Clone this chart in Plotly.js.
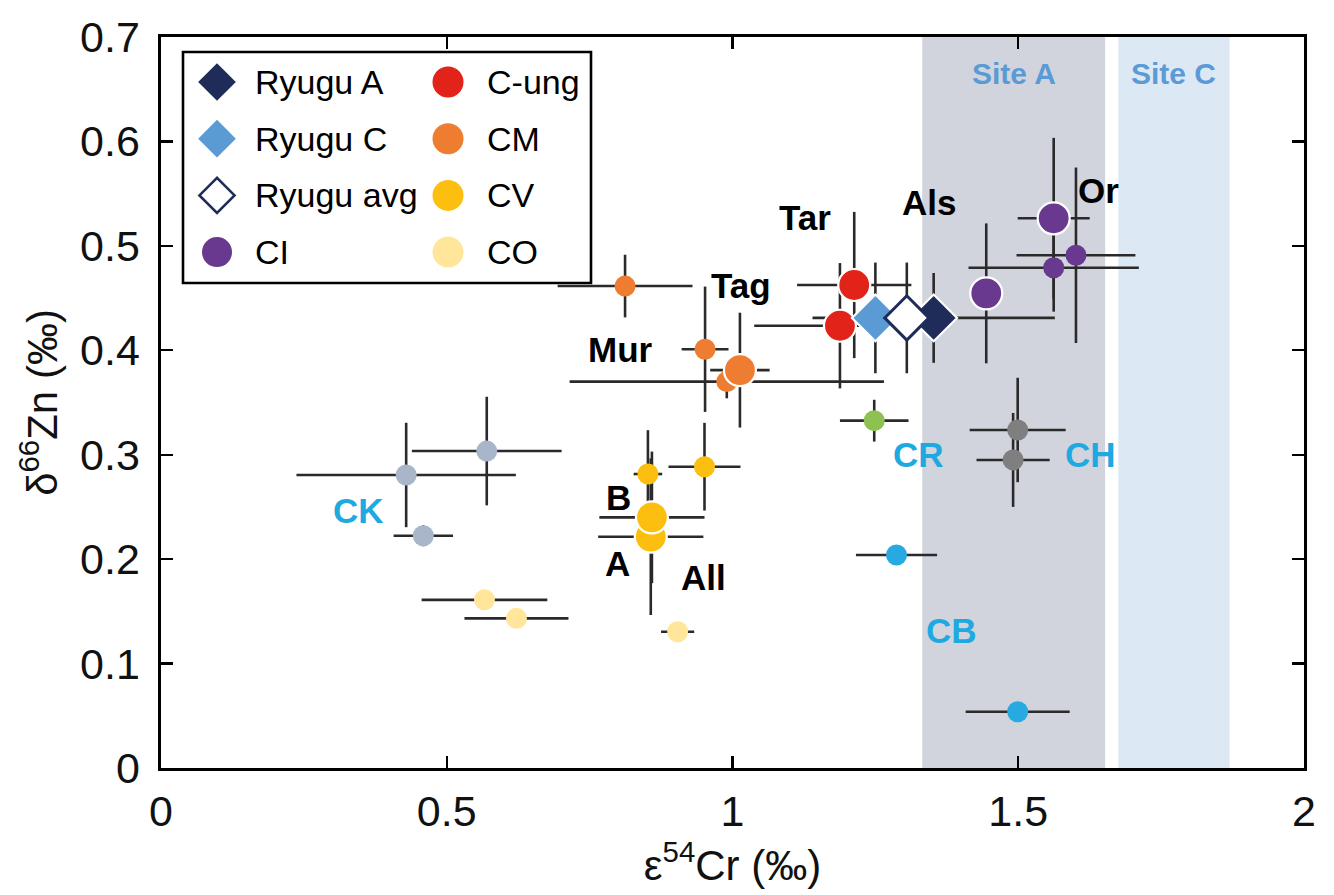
<!DOCTYPE html>
<html>
<head>
<meta charset="utf-8">
<script src="https://cdn.plot.ly/plotly-3.0.1.min.js"></script>
<style>html,body{margin:0;padding:0;background:#fff;}#chart{width:1334px;height:895px;}</style>
</head>
<body>
<div id="chart"></div>
<script>
// ---------------- data (epsilon54Cr, delta66Zn, 1-sigma-ish errors) ----------------
const ryuguA_x = [1.352], ryuguA_y = [0.431], ryuguA_ex = [0.212], ryuguA_ey = [0.043];
const ryuguC_x = [1.250], ryuguC_y = [0.431], ryuguC_ex = [0.04], ryuguC_ey = [0.053];
const ryuguAvg_x = [1.305], ryuguAvg_y = [0.431], ryuguAvg_ex = [0.04], ryuguAvg_ey = [0.053];

const cung_x = [1.213, 1.188], cung_y = [0.4625, 0.4235], cung_ex = [0.10, 0.15], cung_ey = [0.070, 0.060];

const cmLit_x = [0.812, 0.952, 0.990], cmLit_y = [0.4615, 0.401, 0.370];
const cmLit_ex = [0.118, 0.041, 0.275], cmLit_ey = [0.030, 0.060, 0.016];
const cmNew_x = [1.013], cmNew_y = [0.381], cmNew_ex = [0.052], cmNew_ey = [0.055];

const cvLit_x = [0.852, 0.951], cvLit_y = [0.2815, 0.2885], cvLit_ex = [0.025, 0.063], cvLit_ey = [0.042, 0.042];
const cvNew_x = [0.857, 0.859], cvNew_y = [0.2215, 0.240], cvNew_ex = [0.092, 0.092], cvNew_ey = [0.075, 0.063];

const co_x = [0.566, 0.622, 0.904], co_y = [0.161, 0.1433, 0.1305], co_ex = [0.110, 0.091, 0.029], co_ey = [0.004, 0.004, 0.004];

const ciLit_x = [1.562, 1.601], ciLit_y = [0.479, 0.491], ciLit_ex = [0.149, 0.104], ciLit_ey = [0.042, 0.084];
const ciNew_x = [1.444, 1.562], ciNew_y = [0.4545, 0.5264], ciNew_ex = [0.025, 0.063], ciNew_ey = [0.067, 0.077];

const ck_x = [0.429, 0.570, 0.459], ck_y = [0.2806, 0.3035, 0.2224], ck_ex = [0.192, 0.131, 0.052], ck_ey = [0.050, 0.052, 0.010];
const cr_x = [1.248], cr_y = [0.3326], cr_ex = [0.060], cr_ey = [0.020];
const ch_x = [1.499, 1.491], ch_y = [0.3237, 0.295], ch_ex = [0.084, 0.064], ch_ey = [0.050, 0.045];
const cb_x = [1.287, 1.499], cb_y = [0.204, 0.0539], cb_ex = [0.071, 0.091], cb_ey = [0.0, 0.0];

// Ryugu sampling sites (epsilon54Cr range)
const siteA_range = [1.332, 1.652];
const siteC_range = [1.675, 1.870];

// point labels
const meteorite_labels = ['Tar', 'Als', 'Or', 'Tag', 'Mur', 'B', 'A', 'All'];
const meteorite_label_x = [1.127, 1.344, 1.640, 1.014, 0.804, 0.800, 0.798, 0.949];
const meteorite_label_y = [0.527, 0.542, 0.553, 0.4625, 0.401, 0.2595, 0.196, 0.182];
const group_labels = ['CK', 'CR', 'CH', 'CB'];
const group_label_x = [0.345, 1.325, 1.626, 1.383];
const group_label_y = [0.247, 0.300, 0.300, 0.132];

const x_tickvals = [0, 0.5, 1, 1.5, 2];
const x_ticktext = ['0', '0.5', '1', '1.5', '2'];
const y_tickvals = [0, 0.1, 0.2, 0.3, 0.4, 0.5, 0.6, 0.7];
const y_ticktext = ['0', '0.1', '0.2', '0.3', '0.4', '0.5', '0.6', '0.7'];

const legend_col1 = ['Ryugu A', 'Ryugu C', 'Ryugu avg', 'CI'];
const legend_col2 = ['C-ung', 'CM', 'CV', 'CO'];

// ---------------- styles ----------------
const COL = {
  ryuguA: '#1f2b58', ryuguC: '#5b9bd5', cung: '#e2231a', cm: '#ee7d31', cv: '#fdbf0f',
  co: '#ffe69b', ci: '#69388f', ck: '#a9b5c9', cr: '#8dc152', ch: '#7f7f7f', cb: '#27aae2'
};
const FONT = 'Liberation Sans, Arial, Helvetica, sans-serif';
const BIG = 32, SMALL = 21;

const traces = [];
// error bars of everything first, so that all markers sit above all bars
const allX = [].concat(ryuguA_x, ryuguC_x, ryuguAvg_x, cung_x, cmLit_x, cmNew_x, cvLit_x, cvNew_x, co_x, ciLit_x, ciNew_x, ck_x, cr_x, ch_x, cb_x);
const allY = [].concat(ryuguA_y, ryuguC_y, ryuguAvg_y, cung_y, cmLit_y, cmNew_y, cvLit_y, cvNew_y, co_y, ciLit_y, ciNew_y, ck_y, cr_y, ch_y, cb_y);
const allEx = [].concat(ryuguA_ex, ryuguC_ex, ryuguAvg_ex, cung_ex, cmLit_ex, cmNew_ex, cvLit_ex, cvNew_ex, co_ex, ciLit_ex, ciNew_ex, ck_ex, cr_ex, ch_ex, cb_ex);
const allEy = [].concat(ryuguA_ey, ryuguC_ey, ryuguAvg_ey, cung_ey, cmLit_ey, cmNew_ey, cvLit_ey, cvNew_ey, co_ey, ciLit_ey, ciNew_ey, ck_ey, cr_ey, ch_ey, cb_ey);
traces.push({
  x: allX, y: allY, type: 'scatter', mode: 'markers', showlegend: false, hoverinfo: 'skip',
  marker: {size: 1, color: 'rgba(0,0,0,0)'},
  error_x: {type: 'data', array: allEx, color: '#2a2a2a', thickness: 2.6, width: 0},
  error_y: {type: 'data', array: allEy, color: '#2a2a2a', thickness: 2.6, width: 0}
});

function pts(name, x, y, color, size, symbol, line, fill) {
  traces.push({
    name: name, x: x, y: y, type: 'scatter', mode: 'markers', showlegend: false,
    marker: {size: size, color: fill || color, symbol: symbol || 'circle',
             line: line || {width: 0, color: 'white'}}
  });
}
const whiteEdge = {width: 2.2, color: 'white'};
pts('CK', ck_x, ck_y, COL.ck, SMALL);
pts('CO', co_x, co_y, COL.co, SMALL);
pts('CV', cvLit_x, cvLit_y, COL.cv, SMALL);
pts('CV', cvNew_x, cvNew_y, COL.cv, BIG, 'circle', whiteEdge);
pts('CM', cmLit_x, cmLit_y, COL.cm, SMALL);
pts('CM', cmNew_x, cmNew_y, COL.cm, BIG, 'circle', whiteEdge);
pts('CR', cr_x, cr_y, COL.cr, SMALL);
pts('CH', ch_x, ch_y, COL.ch, SMALL);
pts('CB', cb_x, cb_y, COL.cb, SMALL);
pts('CI', ciLit_x, ciLit_y, COL.ci, SMALL);
pts('CI', ciNew_x, ciNew_y, COL.ci, BIG, 'circle', whiteEdge);
pts('C-ung', cung_x, cung_y, COL.cung, BIG, 'circle', whiteEdge);
pts('Ryugu C', ryuguC_x, ryuguC_y, COL.ryuguC, 36, 'diamond', whiteEdge);
pts('Ryugu A', ryuguA_x, ryuguA_y, COL.ryuguA, 36, 'diamond', whiteEdge);
pts('Ryugu avg', ryuguAvg_x, ryuguAvg_y, COL.ryuguA, 34, 'diamond', {width: 3, color: COL.ryuguA}, 'white');

// ---------------- hand-built two-column legend on an overlay (paper-like) axis ----------------
const L = 161, PW = 1143, PH = 731;          // plot area in px
const px2x = p => (p - L) / PW, py2y = p => (768 - p) / PH;
const legBox = {x0: px2x(183), x1: px2x(591), y0: py2y(283), y1: py2y(52)};
const rowPx = i => 82 + i * 56.7;
const legendStyle = {
  'Ryugu A': {color: COL.ryuguA, symbol: 'diamond', size: 29, line: {width: 0}},
  'Ryugu C': {color: COL.ryuguC, symbol: 'diamond', size: 29, line: {width: 0}},
  'Ryugu avg': {color: 'white', symbol: 'diamond', size: 27, line: {width: 2.6, color: COL.ryuguA}},
  'CI': {color: COL.ci, symbol: 'circle', size: 30, line: {width: 0}},
  'C-ung': {color: COL.cung, symbol: 'circle', size: 31, line: {width: 0}},
  'CM': {color: COL.cm, symbol: 'circle', size: 31, line: {width: 0}},
  'CV': {color: COL.cv, symbol: 'circle', size: 31, line: {width: 0}},
  'CO': {color: COL.co, symbol: 'circle', size: 31, line: {width: 0}}
};
const annotations = [];
[[legend_col1, 217, 253], [legend_col2, 448, 485]].forEach(([names, mx, tx]) => {
  names.forEach((nm, i) => {
    const s = legendStyle[nm];
    traces.push({x: [px2x(mx)], y: [py2y(rowPx(i))], xaxis: 'x2', yaxis: 'y2', type: 'scatter', mode: 'markers',
      showlegend: false, hoverinfo: 'skip',
      marker: {size: s.size, color: s.color, symbol: s.symbol, line: s.line}});
    annotations.push({xref: 'paper', yref: 'paper', x: px2x(tx), y: py2y(rowPx(i)) , xanchor: 'left', yanchor: 'middle',
      text: nm, showarrow: false, font: {family: FONT, size: 34, color: '#000'}});
  });
});

meteorite_labels.forEach((t, i) => annotations.push({
  x: meteorite_label_x[i], y: meteorite_label_y[i], xref: 'x', yref: 'y', text: '<b>' + t + '</b>',
  showarrow: false, font: {family: FONT, size: 35, color: '#000'}}));
group_labels.forEach((t, i) => annotations.push({
  x: group_label_x[i], y: group_label_y[i], xref: 'x', yref: 'y', text: '<b>' + t + '</b>',
  showarrow: false, font: {family: FONT, size: 35, color: '#1fa9e1'}}));
annotations.push({x: (siteA_range[0] + siteA_range[1]) / 2, y: 0.6655, xref: 'x', yref: 'y', text: '<b>Site A</b>',
  showarrow: false, font: {family: FONT, size: 30, color: '#5b9bd5'}});
annotations.push({x: (siteC_range[0] + siteC_range[1]) / 2, y: 0.6655, xref: 'x', yref: 'y', text: '<b>Site C</b>',
  showarrow: false, font: {family: FONT, size: 30, color: '#5b9bd5'}});

const shapes = [
  {type: 'rect', xref: 'x', yref: 'y', x0: siteA_range[0], x1: siteA_range[1], y0: 0, y1: 0.7,
   fillcolor: '#d1d4dc', line: {width: 0}, layer: 'below'},
  {type: 'rect', xref: 'x', yref: 'y', x0: siteC_range[0], x1: siteC_range[1], y0: 0, y1: 0.7,
   fillcolor: '#dde8f5', line: {width: 0}, layer: 'below'},
  {type: 'rect', xref: 'paper', yref: 'paper', x0: legBox.x0, x1: legBox.x1, y0: legBox.y0, y1: legBox.y1,
   fillcolor: 'white', line: {width: 2.6, color: '#000'}, layer: 'below'}
];

const axisCommon = {
  showgrid: false, zeroline: false, showline: true, linewidth: 2.6, linecolor: '#000', mirror: 'ticks',
  ticks: 'inside', ticklen: 12, tickwidth: 2.2, tickcolor: '#000',
  tickfont: {family: FONT, size: 43, color: '#111'}
};
const layout = {
  width: 1334, height: 895,
  margin: {l: 161, r: 30, t: 37, b: 127},
  paper_bgcolor: 'white', plot_bgcolor: 'white',
  showlegend: false,
  xaxis: Object.assign({}, axisCommon, {
    range: [0, 2], tickvals: x_tickvals, ticktext: x_ticktext, ticklabelstandoff: 4,
    title: {text: 'ε<sup>54</sup>Cr (‰)', font: {family: FONT, size: 42, color: '#111'}, standoff: 4}
  }),
  yaxis: Object.assign({}, axisCommon, {
    range: [0, 0.7], tickvals: y_tickvals, ticktext: y_ticktext, ticklabelstandoff: 10,
    title: {text: 'δ<sup>66</sup>Zn (‰)', font: {family: FONT, size: 42, color: '#111'}, standoff: 10}
  }),
  xaxis2: {overlaying: 'x', range: [0, 1], visible: false, fixedrange: true, anchor: 'y2'},
  yaxis2: {overlaying: 'y', range: [0, 1], visible: false, fixedrange: true, anchor: 'x2'},
  shapes: shapes,
  annotations: annotations
};

Plotly.newPlot('chart', traces, layout, {staticPlot: true, displayModeBar: false});
</script>
</body>
</html>
